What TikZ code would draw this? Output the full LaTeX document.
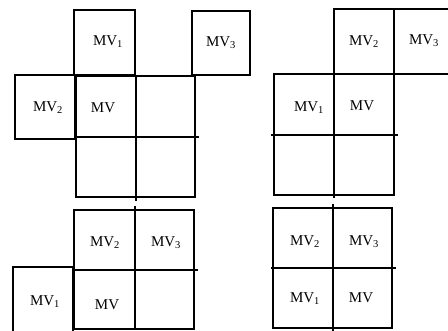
\documentclass[tikz,border=0pt]{standalone}
\usepackage{fontspec}
\setmainfont{Liberation Serif}
\begin{document}
\begin{tikzpicture}[x=1pt,y=-1pt,
  ln/.style={line width=1.3pt,line cap=rect},
  lbl/.style={font=\fontsize{15}{17}\selectfont,inner sep=0pt}]
\useasboundingbox (0,0) rectangle (448,331);
% panel 1
\draw[ln] (74,10) rectangle (135,75);
\draw[ln] (192,11) rectangle (250,75);
\draw[ln] (15,75) rectangle (75,139);
\draw[ln] (76,76) rectangle (195,197);
\draw[ln] (136,76) -- (136,200);
\draw[ln] (76,137) -- (198,137);
\node[lbl] (a1) at (108,42) {MV\textsubscript{1}};
\node[lbl] (a3) at (221,43) {MV\textsubscript{3}};
\node[lbl] (a2) at (48,108) {MV\textsubscript{2}};
\node[lbl] (a0) at (103,108) {MV};
% panel 2
\draw[ln] (334,9) rectangle (394,74);
\draw[ln] (394,9) -- (449,9);
\draw[ln] (394,74) -- (449,74);
\draw[ln] (274,74) rectangle (394,195);
\draw[ln] (334,74) -- (334,197);
\draw[ln] (272,135) -- (397,135);
\node[lbl] (b2) at (364,42) {MV\textsubscript{2}};
\node[lbl] (b3) at (424,41) {MV\textsubscript{3}};
\node[lbl] (b1) at (309,108) {MV\textsubscript{1}};
\node[lbl] (b0) at (362,106) {MV};
% panel 3
\draw[ln] (74,210) rectangle (194,329);
\draw[ln] (135,207) -- (135,329);
\draw[ln] (74,270) -- (197,270);
\draw[ln] (13,332) -- (13,267) -- (73,267) -- (73,332);
\node[lbl] (c2) at (105,243) {MV\textsubscript{2}};
\node[lbl] (c3) at (166,243) {MV\textsubscript{3}};
\node[lbl] (c1) at (45,302) {MV\textsubscript{1}};
\node[lbl] (c0) at (107,305) {MV};
% panel 4
\draw[ln] (273,208) rectangle (392,328);
\draw[ln] (333,205) -- (333,330);
\draw[ln] (272,268) -- (395,268);
\node[lbl] (d2) at (305,242) {MV\textsubscript{2}};
\node[lbl] (d3) at (364,242) {MV\textsubscript{3}};
\node[lbl] (d1) at (305,299) {MV\textsubscript{1}};
\node[lbl] (d0) at (361,298) {MV};
\end{tikzpicture}
\end{document}
